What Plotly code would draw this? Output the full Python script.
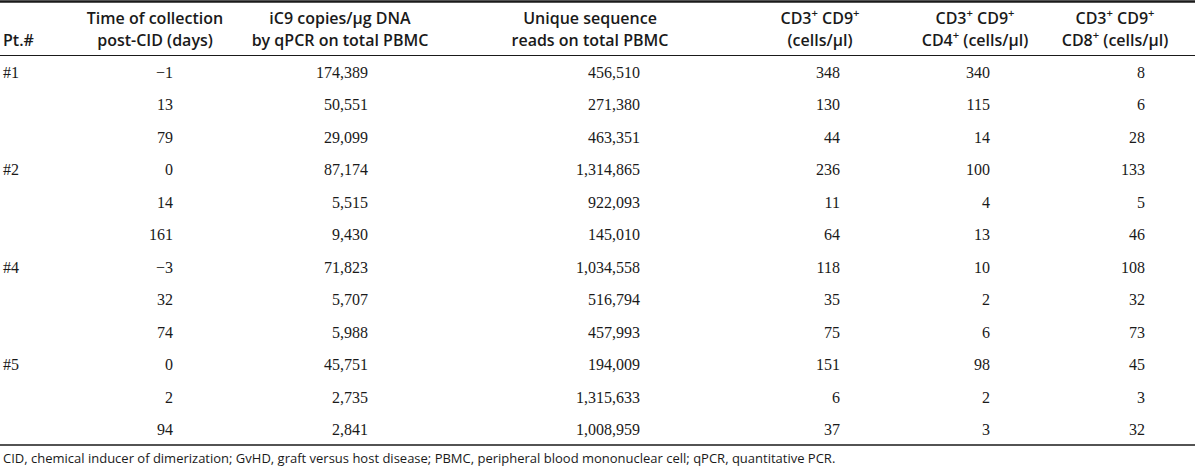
import plotly.graph_objects as go

# ---------------- data ----------------
patients = ["#1", "#2", "#4", "#5"]
samples_per_patient = 3
days_post_cid = [-1, 13, 79, 0, 14, 161, -3, 32, 74, 0, 2, 94]
ic9_copies_per_ug = [174389, 50551, 29099, 87174, 5515, 9430, 71823, 5707, 5988, 45751, 2735, 2841]
unique_reads = [456510, 271380, 463351, 1314865, 922093, 145010, 1034558, 516794, 457993, 194009, 1315633, 1008959]
cd3_cd9 = [348, 130, 44, 236, 11, 64, 118, 35, 75, 151, 6, 37]
cd3_cd9_cd4 = [340, 115, 14, 100, 4, 13, 10, 2, 6, 98, 2, 3]
cd3_cd9_cd8 = [8, 6, 28, 133, 5, 46, 108, 32, 73, 45, 3, 32]

header_line1 = ["", "Time of collection", "iC9 copies/µg DNA", "Unique sequence",
                "CD3<sup>+</sup> CD9<sup>+</sup>", "CD3<sup>+</sup> CD9<sup>+</sup>", "CD3<sup>+</sup> CD9<sup>+</sup>"]
header_line2 = ["Pt.#", "post-CID (days)", "by qPCR on total PBMC", "reads on total PBMC",
                "(cells/µl)", "CD4<sup>+</sup> (cells/µl)", "CD8<sup>+</sup> (cells/µl)"]
footnote = ("CID, chemical inducer of dimerization; GvHD, graft versus host disease; "
            "PBMC, peripheral blood mononuclear cell; qPCR, quantitative PCR.")

# ---------------- layout constants ----------------
W, H = 1200, 473
PT_LEFT = 3
HEADER_CENTER = [None, 155, 340, 590, 820, 975, 1115]
DATA_RIGHT = [None, 173, 368, 640, 840, 990, 1145]
ROW0, ROW_STEP = 74, 32.45
HDR_Y1, HDR_Y2 = 20, 42
RULE_TOP, RULE_HDR, RULE_BOT = 1.5, 55.5, 445
FOOT_Y = 460
TABLE_RIGHT = 1195

SERIF = "Liberation Serif"
SANS = "Open Sans"
INK = "#1a1a1a"


def fmt_num(v):
    s = f"{v:,}"
    return s.replace("-", "\u2212")


n_rows = len(days_post_cid)
row_y = [ROW0 + i * ROW_STEP for i in range(n_rows)]

fig = go.Figure()

# rules (horizontal lines)
for y_rule, lw in [(RULE_TOP, 2.5), (RULE_HDR, 1), (RULE_BOT, 1.5)]:
    fig.add_trace(go.Scatter(
        x=[0, TABLE_RIGHT], y=[y_rule, y_rule], mode="lines",
        line=dict(color=INK, width=lw), hoverinfo="skip", showlegend=False))

# patient labels (first row of each patient block)
pt_rows = [row_y[i * samples_per_patient] for i in range(len(patients))]
fig.add_trace(go.Scatter(
    x=[PT_LEFT] * len(patients), y=pt_rows, mode="text", text=patients, cliponaxis=False,
    textposition="middle right", textfont=dict(family=SERIF, size=16, color=INK),
    hoverinfo="skip", showlegend=False))

columns = [days_post_cid, ic9_copies_per_ug, unique_reads, cd3_cd9, cd3_cd9_cd4, cd3_cd9_cd8]
for ci, col in enumerate(columns, start=1):
    fig.add_trace(go.Scatter(
        x=[DATA_RIGHT[ci]] * n_rows, y=row_y, mode="text", cliponaxis=False,
        text=[fmt_num(v) for v in col],
        textposition="middle left", textfont=dict(family=SERIF, size=16, color=INK),
        hoverinfo="skip", showlegend=False))

# header
hdr_font = dict(family=SANS, size=16, color=INK, weight=600)
fig.add_trace(go.Scatter(
    x=[PT_LEFT], y=[HDR_Y2], mode="text", text=[header_line2[0]], cliponaxis=False,
    textposition="middle right", textfont=hdr_font, hoverinfo="skip", showlegend=False))
fig.add_trace(go.Scatter(
    x=HEADER_CENTER[1:], y=[HDR_Y1] * 6, mode="text", text=header_line1[1:], cliponaxis=False,
    textposition="middle center", textfont=hdr_font, hoverinfo="skip", showlegend=False))
fig.add_trace(go.Scatter(
    x=HEADER_CENTER[1:], y=[HDR_Y2] * 6, mode="text", text=header_line2[1:], cliponaxis=False,
    textposition="middle center", textfont=hdr_font, hoverinfo="skip", showlegend=False))

# footnote
fig.add_trace(go.Scatter(
    x=[PT_LEFT], y=[FOOT_Y], mode="text", text=[footnote], cliponaxis=False,
    textposition="middle right", textfont=dict(family=SANS, size=13, color=INK),
    hoverinfo="skip", showlegend=False))

fig.update_layout(
    width=W, height=H, margin=dict(l=0, r=0, t=0, b=0),
    paper_bgcolor="white", plot_bgcolor="white",
    xaxis=dict(range=[0, W], visible=False, fixedrange=True),
    yaxis=dict(range=[H, 0], visible=False, fixedrange=True),
)

fig.write_html(
    "out.html",
    config={"displayModeBar": False, "staticPlot": True},
    post_script="document.body.style.margin='0';document.body.style.overflow='hidden';",
)
